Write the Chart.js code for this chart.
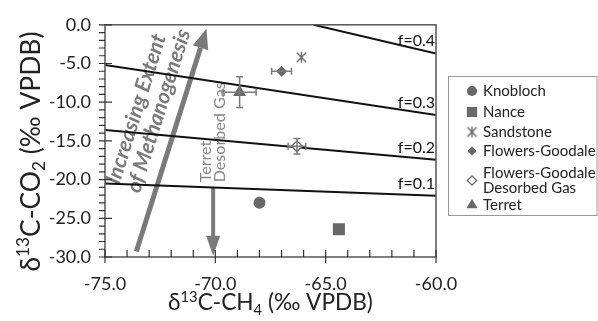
<!DOCTYPE html>
<html><head><meta charset="utf-8">
<script src="https://cdn.jsdelivr.net/npm/chart.js@4.4.1/dist/chart.umd.min.js"></script>
<style>html,body{margin:0;padding:0;background:#fff}#wrap{width:598px;height:321px;position:relative}</style>
</head><body><div id="wrap"><canvas id="c" width="598" height="321"></canvas></div>
<script>
// ---- data ----
const seriesNames = ['Knobloch', 'Nance', 'Sandstone', 'Flowers-Goodale', 'Flowers-Goodale Desorbed Gas', 'Terret'];
const ch4Values = [-68.0, -64.4, -66.1, -67.0, -66.3, -68.9];
const co2Values = [-23.0, -26.4, -4.2, -6.0, -15.7, -8.7];
const ch4Errors = [0, 0, 0, 0.45, 0.4, 0.75];
const co2Errors = [0, 0, 0, 0, 1.0, 2.0];
const fLabels = ['f=0.1', 'f=0.2', 'f=0.3', 'f=0.4'];
const fStartCH4 = [-75, -75, -75, -65.55];
const fStartCO2 = [-20.5, -13.6, -5.2, 0];
const fEndCH4 = [-60, -60, -60, -60];
const fEndCO2 = [-22.1, -17.45, -11.65, -3.7];
const xTickValues = [-75, -70, -65, -60];
const yTickValues = [0, -5, -10, -15, -20, -25, -30];
const methArrowCH4 = [-73.58, -70.4];
const methArrowCO2 = [-29.3, -0.5];
const terretArrowCH4 = -70.1;
const terretArrowCO2 = [-21.0, -29.85];

// ---- styles ----
const GRAY = '#686868';
const NOTE = '#7a7a7a';
const FONT = 'Lato, "Open Sans", sans-serif';

function makeAsterisk(r, color) {
  const c = document.createElement('canvas');
  const s = 2 * r + 4; c.width = s; c.height = s;
  const g = c.getContext('2d');
  g.strokeStyle = color; g.lineWidth = 1.4;
  const m = s / 2, d = r * 0.85;
  g.beginPath();
  g.moveTo(m, m - r); g.lineTo(m, m + r);
  g.moveTo(m - d, m - d); g.lineTo(m + d, m + d);
  g.moveTo(m - d, m + d); g.lineTo(m + d, m - d);
  g.stroke();
  return c;
}
const asterisk = makeAsterisk(5.5, GRAY);
const markerStyles = [
  {pointStyle: 'circle', radius: 6, bg: GRAY, border: GRAY, bw: 0},
  {pointStyle: 'rect', radius: 8.5, bg: GRAY, border: GRAY, bw: 0},
  {pointStyle: asterisk, radius: 6, bg: GRAY, border: GRAY, bw: 0},
  {pointStyle: 'rectRot', radius: 5.5, bg: GRAY, border: GRAY, bw: 0},
  {pointStyle: 'rectRot', radius: 5.5, bg: '#fff', border: GRAY, bw: 1.3},
  {pointStyle: 'triangle', radius: 7.5, bg: GRAY, border: GRAY, bw: 0}
];

const datasets = [];
fLabels.forEach((lab, i) => {
  datasets.push({
    type: 'line', label: lab,
    data: [{x: fStartCH4[i], y: fStartCO2[i]}, {x: fEndCH4[i], y: fEndCO2[i]}],
    borderColor: '#111', borderWidth: 2, pointRadius: 0, fill: false, order: 2
  });
});
seriesNames.forEach((name, i) => {
  const m = markerStyles[i];
  datasets.push({
    type: 'scatter', label: name,
    data: [{x: ch4Values[i], y: co2Values[i]}],
    pointStyle: m.pointStyle, pointRadius: m.radius,
    backgroundColor: m.bg, borderColor: m.border, borderWidth: m.bw, order: 0
  });
});

function richWidth(ctx, parts, size) {
  let w = 0;
  parts.forEach(p => {
    const s = (p.sup || p.sub) ? size * 0.65 : size;
    ctx.font = s + 'px ' + FONT;
    w += ctx.measureText(p.t).width;
  });
  return w;
}
function drawRich(ctx, parts, cx, cy, targetW) {
  let size = 20;
  size = size * targetW / richWidth(ctx, parts, size);
  const total = richWidth(ctx, parts, size);
  let x = cx - total / 2;
  const base = cy + size * 0.36;
  ctx.textAlign = 'left'; ctx.textBaseline = 'alphabetic';
  parts.forEach(p => {
    const s = (p.sup || p.sub) ? size * 0.65 : size;
    ctx.font = s + 'px ' + FONT;
    const dy = p.sup ? -size * 0.38 : (p.sub ? size * 0.22 : 0);
    ctx.fillText(p.t, x, base + dy);
    x += ctx.measureText(p.t).width;
  });
}
function fitFont(ctx, style, text, targetW) {
  ctx.font = style + ' 20px ' + FONT;
  const s = 20 * targetW / ctx.measureText(text).width;
  return style + ' ' + s.toFixed(2) + 'px ' + FONT;
}

const decor = {
  id: 'decor',
  beforeDatasetsDraw(chart) {
    const {ctx, chartArea: a, scales: {x, y}} = chart;
    ctx.save();
    // big arrow
    const x0 = x.getPixelForValue(methArrowCH4[0]), y0 = y.getPixelForValue(methArrowCO2[0]);
    const x1 = x.getPixelForValue(methArrowCH4[1]), y1 = y.getPixelForValue(methArrowCO2[1]);
    const ang = Math.atan2(y1 - y0, x1 - x0);
    const ux = Math.cos(ang), uy = Math.sin(ang);
    const hl = 20, hw = 8;
    ctx.strokeStyle = NOTE; ctx.fillStyle = NOTE; ctx.lineWidth = 5;
    ctx.beginPath(); ctx.moveTo(x0, y0); ctx.lineTo(x1 - ux * hl, y1 - uy * hl); ctx.stroke();
    ctx.beginPath();
    ctx.moveTo(x1, y1);
    ctx.lineTo(x1 - ux * hl - uy * hw, y1 - uy * hl + ux * hw);
    ctx.lineTo(x1 - ux * hl + uy * hw, y1 - uy * hl - ux * hw);
    ctx.closePath(); ctx.fill();
    // arrow text
    const mx = (x0 + x1) / 2, my = (y0 + y1) / 2;
    ctx.save();
    ctx.translate(mx, my); ctx.rotate(ang);
    ctx.font = fitFont(ctx, 'italic bold', 'of Methanogenesis', 170);
    ctx.textAlign = 'center'; ctx.textBaseline = 'middle';
    ctx.fillStyle = NOTE;
    ctx.fillText('Increasing Extent', 19, -43);
    ctx.fillText('of Methanogenesis', 24, -21);
    ctx.restore();
    // Terret desorbed arrow
    const tx = x.getPixelForValue(terretArrowCH4);
    const ty0 = y.getPixelForValue(terretArrowCO2[0]), ty1 = y.getPixelForValue(terretArrowCO2[1]);
    ctx.lineWidth = 4;
    ctx.beginPath(); ctx.moveTo(tx, ty0); ctx.lineTo(tx, ty1 - 18); ctx.stroke();
    ctx.beginPath(); ctx.moveTo(tx, ty1); ctx.lineTo(tx - 7, ty1 - 20); ctx.lineTo(tx + 7, ty1 - 20); ctx.closePath(); ctx.fill();
    ctx.save();
    ctx.translate(tx, ty0 - 5); ctx.rotate(-Math.PI / 2);
    ctx.fillStyle = '#858585';
    ctx.font = fitFont(ctx, 'normal', 'Desorbed Gas', 100);
    ctx.textAlign = 'left'; ctx.textBaseline = 'middle';
    ctx.fillText('Terret', 0, -7);
    ctx.fillText('Desorbed Gas', 0, 7);
    ctx.restore();
    ctx.restore();
  },
  afterDatasetsDraw(chart) {
    const {ctx, chartArea: a, scales: {x, y}} = chart;
    ctx.save();
    // error bars
    ctx.strokeStyle = NOTE; ctx.lineWidth = 1.5;
    for (let i = 0; i < seriesNames.length; i++) {
      const px = x.getPixelForValue(ch4Values[i]), py = y.getPixelForValue(co2Values[i]);
      if (ch4Errors[i] > 0) {
        const l = x.getPixelForValue(ch4Values[i] - ch4Errors[i]), r = x.getPixelForValue(ch4Values[i] + ch4Errors[i]);
        ctx.beginPath(); ctx.moveTo(l, py); ctx.lineTo(r, py);
        ctx.moveTo(l, py - 3.5); ctx.lineTo(l, py + 3.5); ctx.moveTo(r, py - 3.5); ctx.lineTo(r, py + 3.5); ctx.stroke();
      }
      if (co2Errors[i] > 0) {
        const t = y.getPixelForValue(co2Values[i] + co2Errors[i]), b = y.getPixelForValue(co2Values[i] - co2Errors[i]);
        ctx.beginPath(); ctx.moveTo(px, t); ctx.lineTo(px, b);
        ctx.moveTo(px - 3.5, t); ctx.lineTo(px + 3.5, t); ctx.moveTo(px - 3.5, b); ctx.lineTo(px + 3.5, b); ctx.stroke();
      }
    }
    // f labels
    ctx.fillStyle = '#111'; ctx.font = '16px ' + FONT;
    ctx.textAlign = 'right'; ctx.textBaseline = 'alphabetic';
    fLabels.forEach((lab, i) => {
      ctx.fillText(lab, a.right - 1, y.getPixelForValue(fEndCO2[i]) - 7);
    });
    // frame
    ctx.strokeStyle = '#555'; ctx.lineWidth = 1.5;
    ctx.strokeRect(a.left, a.top, a.right - a.left, a.bottom - a.top);
    // ticks
    ctx.strokeStyle = '#333'; ctx.lineWidth = 1.2;
    ctx.beginPath();
    for (let v = -75; v <= -60; v++) {
      const px = x.getPixelForValue(v);
      const major = v % 5 === 0;
      ctx.moveTo(px, a.bottom - 7); ctx.lineTo(px, a.bottom + (major ? 6 : 0));
    }
    for (let v = 0; v >= -30; v--) {
      const py = y.getPixelForValue(v);
      const major = v % 5 === 0;
      ctx.moveTo(a.left - 6, py); ctx.lineTo(a.left + (major ? 7 : 0), py);
    }
    ctx.stroke();
    // axis titles
    ctx.fillStyle = '#222';
    drawRich(ctx, [{t: 'δ'}, {t: '13', sup: true}, {t: 'C-CH'}, {t: '4', sub: true}, {t: ' (‰ VPDB)'}],
      (a.left + a.right) / 2, 302, 205);
    ctx.save();
    ctx.translate(30, 151.5); ctx.rotate(-Math.PI / 2);
    drawRich(ctx, [{t: 'δ'}, {t: '13', sup: true}, {t: 'C-CO'}, {t: '2', sub: true}, {t: ' (‰ VPDB)'}], 0, 0, 240);
    ctx.restore();
    // legend
    const lx = a.right + 12, ly = 76;
    ctx.strokeStyle = '#999'; ctx.lineWidth = 1;
    ctx.strokeRect(lx + 0.5, ly + 0.5, 598 - lx - 1.5, 139);
    const rows = [[15], [36], [56], [75], [97, 112], [129]];
    ctx.font = '15px ' + FONT; ctx.textAlign = 'left'; ctx.textBaseline = 'middle';
    seriesNames.forEach((name, i) => {
      const m = markerStyles[i];
      const r = rows[i];
      const my = ly + (r.length > 1 ? (r[0] + r[1]) / 2 : r[0]);
      ctx.fillStyle = m.bg; ctx.strokeStyle = m.border; ctx.lineWidth = m.bw;
      Chart.helpers.drawPoint(ctx, {pointStyle: m.pointStyle, radius: m.radius * 0.85, rotation: 0, borderWidth: m.bw}, lx + 24, my);
      ctx.fillStyle = '#222';
      if (r.length > 1) {
        ctx.fillText('Flowers-Goodale', lx + 35, ly + r[0]);
        ctx.fillText('Desorbed Gas', lx + 35, ly + r[1]);
      } else {
        ctx.fillText(name, lx + 35, ly + r[0]);
      }
    });
    ctx.restore();
  }
};

new Chart(document.getElementById('c'), {
  data: {datasets},
  options: {
    responsive: false, animation: false,
    layout: {padding: {top: 21, right: 162, left: 0, bottom: 0}},
    plugins: {legend: {display: false}, tooltip: {enabled: false}},
    scales: {
      x: {
        type: 'linear', min: -75, max: -60,
        afterBuildTicks: s => { s.ticks = xTickValues.map(v => ({value: v})); },
        ticks: {callback: v => v.toFixed(1), font: {family: FONT, size: 18}, color: '#222', padding: 16, maxRotation: 0},
        grid: {display: false, drawTicks: false}, border: {display: false},
        afterFit: s => { s.height = 64; }
      },
      y: {
        type: 'linear', min: -30, max: 0,
        afterBuildTicks: s => { s.ticks = yTickValues.map(v => ({value: v})); },
        ticks: {callback: v => v.toFixed(1), font: {family: FONT, size: 18}, color: '#222', padding: 14},
        grid: {display: false, drawTicks: false}, border: {display: false},
        afterFit: s => { s.width = 105; }
      }
    }
  },
  plugins: [decor]
});
</script>
</body></html>
